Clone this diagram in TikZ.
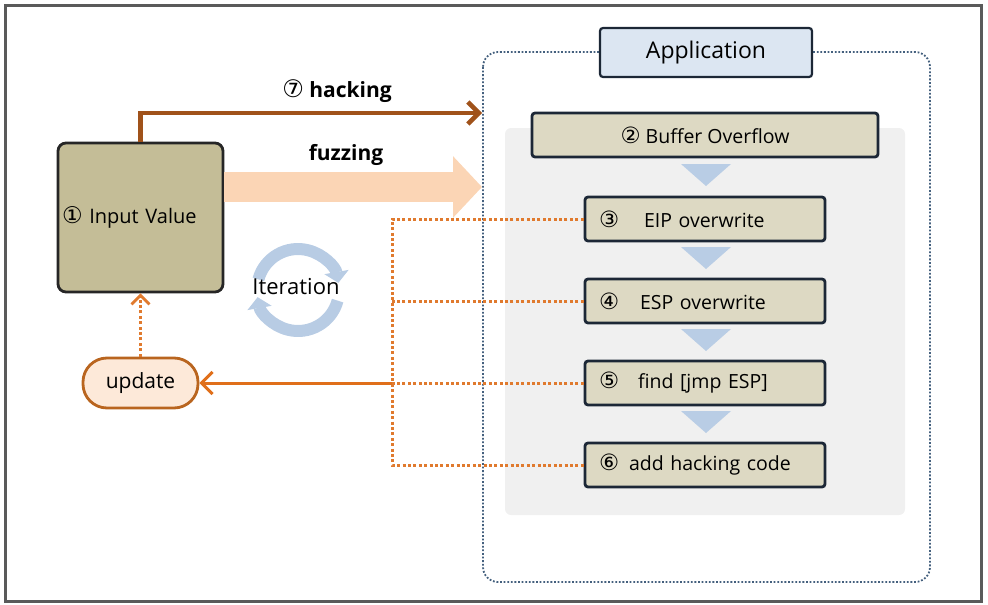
\documentclass[tikz,border=0pt]{standalone}
\usepackage{fontspec}
\setmainfont{Open Sans}
\newfontfamily\circf{DejaVu Sans}
\usetikzlibrary{arrows.meta}
\definecolor{framegray}{HTML}{5A5A5A}
\definecolor{appline}{HTML}{44607E}
\definecolor{appfill}{HTML}{DCE6F2}
\definecolor{boxline}{HTML}{1C2736}
\definecolor{boxfill}{HTML}{DDD9C3}
\definecolor{inpfill}{HTML}{C4BD97}
\definecolor{panelgray}{HTML}{F0F0F0}
\definecolor{tribl}{HTML}{B9CDE5}
\definecolor{ringbl}{HTML}{B8CCE4}
\definecolor{hackc}{HTML}{A0521A}
\definecolor{fuzzc}{HTML}{FBD5B5}
\definecolor{updfill}{HTML}{FDE9D9}
\definecolor{updline}{HTML}{B9651F}
\definecolor{orsolid}{HTML}{E06F1A}
\definecolor{ordot}{HTML}{E07A2E}
\newcommand\cnum[1]{\scalebox{1.15}{\mdseries\circf #1}}
\tikzset{
  procbox/.style={draw=boxline, fill=boxfill, line width=2.8pt, rounded corners=3pt,
    minimum height=44pt, inner sep=0pt, font=\fontsize{19.5}{22}\selectfont},
  stepbox/.style={procbox, minimum width=240pt, text width=212pt, align=left},
  dotl/.style={draw=ordot, line width=3pt, dash pattern=on 3pt off 2.4pt},
  openhead/.style={-{Straight Barb[length=11pt,width=22pt]}},
}
\begin{document}
\begin{tikzpicture}[x=1pt,y=-1pt]
\useasboundingbox (0,0) rectangle (988,605);
% outer frame
\draw[draw=framegray, line width=3pt] (5.5,5.5) rectangle (981.5,601.5);
% application container
\draw[draw=appline, line width=1.8pt, dash pattern=on 1.8pt off 1.8pt, rounded corners=15pt]
  (483,52) rectangle (930,582);
\fill[panelgray, rounded corners=6pt] (505,128) rectangle (905,515);
\node[draw=boxline, fill=appfill, line width=2.2pt, rounded corners=3pt, minimum width=212pt,
  minimum height=49pt, inner sep=0pt, font=\fontsize{23}{26}\selectfont] (app) at (706,52.5) {Application};
% process boxes
\node[procbox, minimum width=346pt] (bo) at (705,135) {\cnum{②} Buffer Overflow};
\node[stepbox] (eip) at (705,219) {\cnum{③}\hspace{25pt}EIP overwrite};
\node[stepbox] (esp) at (705,301) {\cnum{④}\hspace{21pt}ESP overwrite};
\node[stepbox] (fnd) at (705,383) {\cnum{⑤}\hspace{19pt}find [jmp ESP]};
\node[stepbox] (six) at (705,465) {\cnum{⑥}\hspace{10pt}add hacking code};
% down triangles
\foreach \ty in {164,247,329,411}
  \fill[tribl] (681,\ty) -- (731,\ty) -- (706,\ty+22) -- cycle;
% input value
\node[draw=black!85, fill=inpfill, line width=2.8pt, rounded corners=8pt, minimum width=165pt,
  minimum height=149pt, text width=157pt, align=left, inner sep=0pt,
  font=\fontsize{20}{24}\selectfont] (inp) at (140.5,217.5) {\cnum{①} Input Value};
% update
\node[draw=updline, fill=updfill, line width=2.8pt, rounded corners=24pt, minimum width=115pt,
  minimum height=50pt, inner sep=0pt, font=\fontsize{21}{24}\selectfont] (upd) at (140.5,383) {update};
% end points at the application frame
\coordinate (hackend) at (482,113);
\coordinate (fuzzend) at (482,187);
\coordinate (bus) at (392,0);
% hacking arrow
\draw[hackc, line width=4.5pt, openhead] (inp.north) |- (hackend);
\node[font=\bfseries\fontsize{21}{24}\selectfont, anchor=base] (hacklbl) at (337,97) {\cnum{⑦} hacking};
% fuzzing arrow
\draw[fuzzc, line width=30pt, -{Triangle[length=29pt,width=60pt]}] (inp.east |- fuzzend) -- (fuzzend);
\node[font=\bfseries\fontsize{21}{24}\selectfont, anchor=base] (fuzzlbl) at (346,160) {fuzzing};
% iteration ring
\draw[ringbl, line width=12pt, -{Triangle[length=11pt,width=24pt]}]
  (298,290) ++(195:41) arc[start angle=195, end angle=350, radius=41];
\draw[ringbl, line width=12pt, -{Triangle[length=11pt,width=24pt]}]
  (298,290) ++(15:41) arc[start angle=15, end angle=170, radius=41];
\node[font=\fontsize{22}{24}\selectfont] (iter) at (296,287) {Iteration};
% dotted feedback lines
\draw[dotl] (eip.west) -- (eip.west -| bus) -- (six.west -| bus) -- (six.west);
\draw[dotl] (esp.west) -- (esp.west -| bus);
\draw[dotl] (fnd.west) -- (fnd.west -| bus);
\draw[orsolid, line width=3pt, openhead] (fnd.west -| bus) -- (upd.east);
\draw[dotl, -{Straight Barb[length=9pt,width=18pt,line width=2.8pt]}] (upd.north) -- (inp.south);
\end{tikzpicture}
\end{document}
